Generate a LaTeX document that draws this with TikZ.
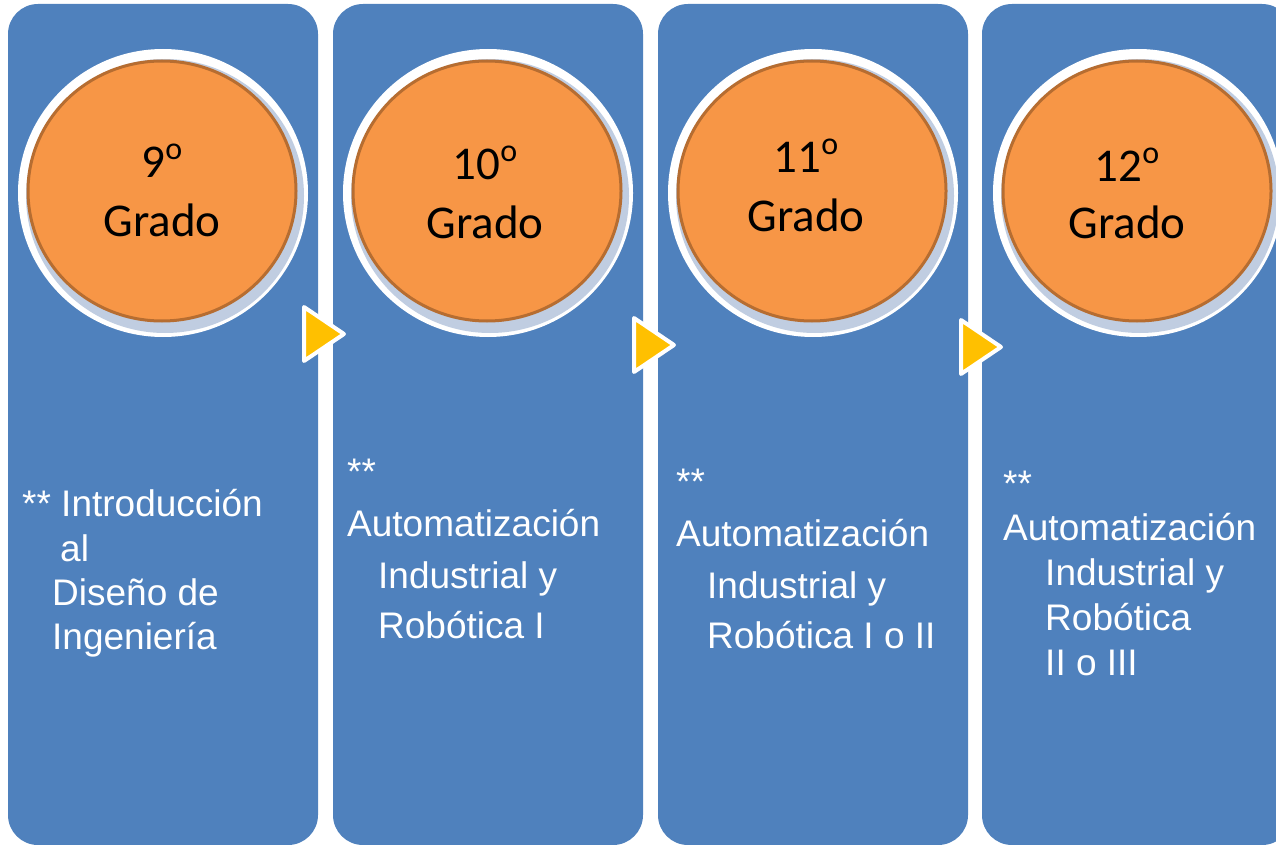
\documentclass[tikz,border=0pt]{standalone}
\usepackage{fontspec}
\setmainfont{Liberation Sans}
\newfontfamily\gradofont{Carlito}

\definecolor{panelblue}{HTML}{4F81BD}
\definecolor{discorange}{HTML}{F79646}
\definecolor{discedge}{HTML}{B66D31}
\definecolor{ringblue}{HTML}{C0CDE1}
\definecolor{chevyellow}{HTML}{FFC000}

\newcommand{\ordo}{\raisebox{18pt}{\fontsize{32}{32}\selectfont o}}

\tikzset{
  panel/.style={fill=panelblue, rounded corners=30pt},
  disc/.style={fill=discorange, draw=discedge, line width=3pt},
  chev/.style={fill=chevyellow, draw=white, line width=4pt, line join=round},
  grado/.style={anchor=base, inner sep=0pt, font=\gradofont\fontsize{47}{56}\selectfont},
  txt/.style={anchor=base west, inner sep=0pt, text=white, font=\fontsize{37}{44}\selectfont}
}

\begin{document}
\begin{tikzpicture}[x=1pt, y=-1pt]
  \useasboundingbox (0,0) rectangle (1276,845);
  \clip (0,0) rectangle (1276,845);

  % panels
  \foreach \x in {8, 333, 658, 982}
    \fill[panel] (\x,4) rectangle ++(310,841);

  % grade discs
  \foreach \x in {163, 488, 813, 1138} {
    \fill[white] (\x,193) ellipse [x radius=145pt, y radius=144pt];
    \fill[ringblue] (\x+2,196) ellipse [x radius=139pt, y radius=137pt];
    \filldraw[disc] (\x-1,191) ellipse [x radius=134pt, y radius=130pt];
  }

  % chevrons between panels
  \foreach \x/\y in {304/307, 634/318, 961/320}
    \filldraw[chev] (\x,\y) -- (\x+40,\y+27) -- (\x,\y+54) -- cycle;

  \node[grado] (g1a) at (162,178) {9\ordo};
  \node[grado] (g1b) at (162,236) {Grado};
  \node[grado] (g2a) at (485,180) {10\ordo};
  \node[grado] (g2b) at (485,238) {Grado};
  \node[grado] (g3a) at (806,173) {11\ordo};
  \node[grado] (g3b) at (806,231) {Grado};
  \node[grado] (g4a) at (1127,182) {12\ordo};
  \node[grado] (g4b) at (1127,238) {Grado};

  % course names
  \node[txt] (p1a) at (22,516) {** Introducción};
  \node[txt] (p1b) at (60,561) {al};
  \node[txt] (p1c) at (52,605) {Diseño de};
  \node[txt] (p1d) at (52,649) {Ingeniería};

  \node[txt] (p2a) at (347,484) {**};
  \node[txt] (p2b) at (347,536) {Automatización};
  \node[txt] (p2c) at (378,588) {Industrial y};
  \node[txt] (p2d) at (378,638) {Robótica I};

  \node[txt] (p3a) at (676,494) {**};
  \node[txt] (p3b) at (676,546) {Automatización};
  \node[txt] (p3c) at (707,598) {Industrial y};
  \node[txt] (p3d) at (707,648) {Robótica I o II};

  \node[txt] (p4a) at (1003,496) {**};
  \node[txt] (p4b) at (1003,540) {Automatización};
  \node[txt] (p4c) at (1045,585) {Industrial y};
  \node[txt] (p4d) at (1045,630) {Robótica};
  \node[txt] (p4e) at (1045,675) {II o III};
\end{tikzpicture}
\end{document}
